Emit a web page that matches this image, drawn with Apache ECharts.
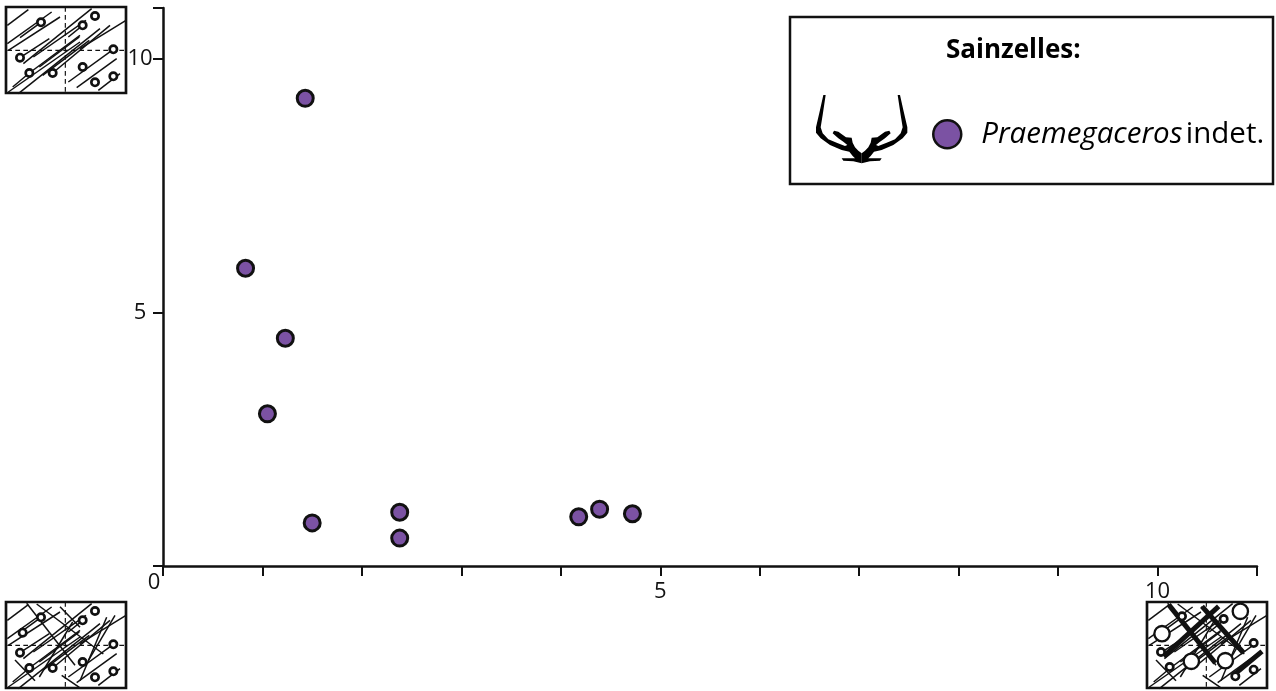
<!DOCTYPE html>
<html><head><meta charset="utf-8">
<style>html,body{margin:0;padding:0;background:#fff}#c{width:1276px;height:691px}</style>
<script src="https://cdn.jsdelivr.net/npm/echarts@6/dist/echarts.min.js"></script>
</head><body><div id="c"></div>
<script>
var seriesName = 'Praemegaceros indet.';
var xValues = [1.43, 0.83, 1.23, 1.05, 1.50, 2.38, 2.38, 4.18, 4.39, 4.72];
var yValues = [9.22, 5.87, 4.49, 3.00, 0.85, 1.06, 0.55, 0.97, 1.12, 1.03];
var xTicks = [0,1,2,3,4,5,6,7,8,9,10,11];
var yTicks = [0,5,10,11];
var xLabels = [5,10];
var yLabels = [0,5,10];
var INK = '#111', PURPLE = '#7b52a3';
var FONT = '"Open Sans", sans-serif';

// Decorative schematic boxes, traced in 3x zoom coordinates relative to each box
function ln(a,w,col){return {type:'line',shape:{x1:a[0],y1:a[1],x2:a[2],y2:a[3]},style:{stroke:col||INK,lineWidth:w||4},silent:true};}
var baseCircles = [[105,46],[42,152],[70,198],[140,198],[230,55],[267,27],[322,127],[230,180],[267,226],[322,208]];
var baseHatch = [[4,55,67,8],[4,110,137,15],[42,92,105,46],[7,130,162,30],[52,170,257,5],[70,198,222,85],[7,255,222,105],[37,260,282,65],
 [140,198,312,55],[187,225,322,127],[212,242,332,155],[277,250,342,200],[222,125,360,40],[230,55,187,90],[82,150,240,40],[100,180,220,90],
 [42,152,130,95],[110,205,250,100],[70,198,20,240]];
function box(x,y,circles,hatch,thick,big){
  var ch=[];
  hatch.forEach(function(h){ch.push(ln(h,4.5));});
  ch.push({type:'line',shape:{x1:4,y1:130,x2:356,y2:130},style:{stroke:INK,lineWidth:3.5,lineDash:[14,10]},silent:true});
  ch.push({type:'line',shape:{x1:178,y1:0,x2:178,y2:258},style:{stroke:INK,lineWidth:3.5,lineDash:[14,10]},silent:true});
  (thick||[]).forEach(function(h){ch.push(ln(h,15));});
  circles.forEach(function(c){ch.push({type:'circle',shape:{cx:c[0],cy:c[1],r:11},style:{fill:'#fff',stroke:INK,lineWidth:8},silent:true});});
  (big||[]).forEach(function(c){ch.push({type:'circle',shape:{cx:c[0],cy:c[1],r:23},style:{fill:'#fff',stroke:INK,lineWidth:7},silent:true});});
  ch.push({type:'rect',shape:{x:0,y:0,width:360,height:258},style:{fill:'none',stroke:INK,lineWidth:8},silent:true});
  return {type:'group',x:x,y:y,scaleX:1/3,scaleY:1/3,children:ch,silent:true};
}
var crossHatch = baseHatch.concat([[62,4,207,190],[92,6,292,156],[162,14,222,76],[27,174,87,236],[167,220,220,256],[302,46,222,236],[327,40,247,176],[100,225,200,60]]);
var blCircles = baseCircles.concat([[50,92]]);
var antlerPts = [[47,15],[40,15],[30,60],[18,112],[18,128],[32,145],[60,165],[95,180],[118,185],[128,198],[135,205],[95,205],[100,212],[130,214],[155,220],[155,190],[145,182],[135,172],[128,158],[125,143],[108,142],[85,125],[72,122],[68,130],[85,145],[100,155],[112,165],[105,168],[80,158],[55,148],[38,130],[32,112],[38,75]];
function antlerEl(flip){
  return {type:'group',x:flip?810+310/3:810,y:90,scaleX:flip?-1/3:1/3,scaleY:1/3,silent:true,children:[
    {type:'polygon',shape:{points:antlerPts},style:{fill:'#000'},silent:true}]};
}

var chart = echarts.init(document.getElementById('c'),null,{renderer:'canvas'});
chart.setOption({
  animation:false,
  backgroundColor:'#fff',
  title:{text:'Sainzelles:',left:941,top:33,itemGap:0,textStyle:{fontFamily:FONT,fontWeight:'bold',fontSize:26,color:'#000'}},
  legend:{left:927,top:114,orient:'horizontal',itemWidth:28,itemHeight:28,icon:'circle',selectedMode:false,
    data:[{name:seriesName,itemStyle:{color:PURPLE,borderColor:INK,borderWidth:2.5}}],
    formatter:function(){return '{i|Praemegaceros} {n|indet.}';},
    textStyle:{rich:{
      i:{fontFamily:FONT,fontStyle:'italic',fontSize:29.5,color:'#000',padding:[0,0,0,15]},
      n:{fontFamily:FONT,fontSize:29.5,color:'#000'}}}},
  grid:{left:163,right:19,top:8,bottom:125,containLabel:false},
  xAxis:{type:'value',min:0,max:11,interval:1,
    splitLine:{show:false},
    axisLine:{onZero:false,lineStyle:{color:INK,width:2.5}},
    axisTick:{customValues:xTicks,length:10,lineStyle:{color:INK,width:2}},
    axisLabel:{customValues:xLabels,margin:15,fontFamily:FONT,fontSize:22,color:'#111'}},
  yAxis:{type:'value',min:0,max:11,interval:1,
    splitLine:{show:false},
    axisLine:{onZero:false,lineStyle:{color:INK,width:2.5}},
    axisTick:{customValues:yTicks,length:10,lineStyle:{color:INK,width:2}},
    axisLabel:{customValues:yLabels,margin:23,align:'center',fontFamily:FONT,fontSize:22,color:'#111',
      formatter:function(v){return v===0?'{z|0}':String(v);},
      rich:{z:{fontFamily:FONT,fontSize:22,color:'#111',padding:[33,0,0,28]}}}},
  series:[{type:'scatter',name:seriesName,symbol:'circle',symbolSize:16,
    data:xValues.map(function(x,i){return [x,yValues[i]];}),
    itemStyle:{color:PURPLE,opacity:1,borderColor:INK,borderWidth:3}}],
  graphic:{elements:[
    {type:'rect',shape:{x:790,y:17,width:483,height:167},style:{fill:'none',stroke:INK,lineWidth:2.5},silent:true,z:-1},
    antlerEl(false),antlerEl(true),
    box(6,7,baseCircles,baseHatch),
    box(6,602,blCircles,crossHatch),
    box(1147,602,[[105,43],[230,51],[42,150],[68,195],[320,123],[265,223],[320,203]],crossHatch,
      [[65,8,205,183],[165,13,290,153],[215,13,50,163],[345,148,255,223]],[[45,95],[280,28],[133,178],[235,176]])
  ]}
});
</script></body></html>
